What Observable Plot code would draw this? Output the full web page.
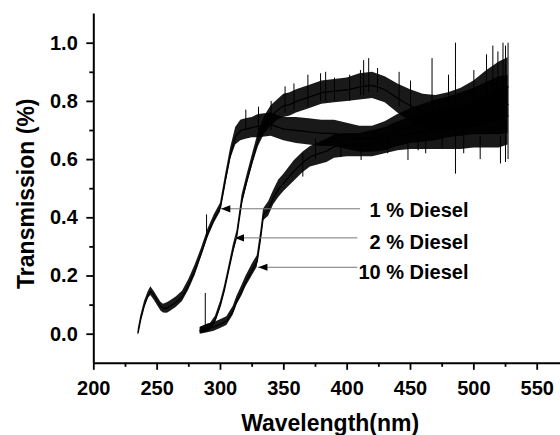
<!DOCTYPE html>
<html>
<head>
<meta charset="utf-8">
<script src="https://cdn.jsdelivr.net/npm/d3@7"></script>
<script src="https://cdn.jsdelivr.net/npm/@observablehq/plot@0.6"></script>
<style>
  html, body { margin: 0; padding: 0; background: white; }
</style>
</head>
<body>
<div id="chart"></div>
<script>
// ---- data ----
const seriesNames = ["1 % Diesel", "2 % Diesel", "10 % Diesel"];

// 1 % Diesel: wavelength (nm), centre of trace, half-width of noise band
const wl1 = [235,237,240,243,245,248,250,253,255,258,260,265,270,275,280,285,290,295,300,304,308,312,316,320,325,330,340,350,360,370,380,390,400,410,420,430,440,450,460,470,480,490,500,510,520,527];
const mid1 = [0.005,0.05,0.10,0.135,0.148,0.13,0.115,0.095,0.088,0.09,0.095,0.11,0.13,0.17,0.22,0.28,0.345,0.395,0.435,0.53,0.62,0.68,0.70,0.705,0.71,0.715,0.72,0.705,0.70,0.695,0.69,0.69,0.68,0.67,0.67,0.68,0.70,0.715,0.725,0.735,0.745,0.755,0.765,0.775,0.785,0.79];
const half1 = [0.01,0.012,0.012,0.012,0.015,0.015,0.015,0.015,0.015,0.018,0.018,0.018,0.018,0.018,0.018,0.015,0.015,0.015,0.015,0.018,0.02,0.03,0.035,0.035,0.035,0.04,0.04,0.04,0.045,0.045,0.045,0.045,0.045,0.045,0.045,0.05,0.055,0.06,0.065,0.07,0.07,0.075,0.08,0.09,0.1,0.1];

// 2 % Diesel
const wl2 = [284,288,292,296,300,303,306,310,313,317,321,326,330,335,340,345,350,355,360,370,380,390,400,410,420,430,440,450,460,470,480,490,500,510,520,527];
const mid2 = [0.012,0.018,0.025,0.05,0.10,0.15,0.21,0.29,0.34,0.46,0.53,0.61,0.67,0.72,0.75,0.77,0.785,0.79,0.80,0.815,0.83,0.835,0.84,0.85,0.855,0.84,0.81,0.785,0.765,0.76,0.765,0.775,0.79,0.815,0.835,0.85];
const half2 = [0.01,0.012,0.012,0.012,0.012,0.012,0.012,0.015,0.015,0.018,0.018,0.02,0.025,0.03,0.035,0.035,0.04,0.04,0.04,0.04,0.04,0.04,0.04,0.045,0.045,0.045,0.05,0.055,0.06,0.06,0.065,0.07,0.08,0.09,0.1,0.1];

// 10 % Diesel
const wl3 = [284,290,295,300,305,310,313,317,320,325,329,332,334,338,342,346,350,358,365,371,384,390,400,410,420,430,440,450,460,470,480,490,500,510,520,527];
const mid3 = [0.012,0.02,0.025,0.035,0.045,0.08,0.115,0.15,0.18,0.22,0.25,0.34,0.41,0.43,0.47,0.50,0.52,0.56,0.59,0.61,0.63,0.645,0.65,0.65,0.655,0.665,0.68,0.69,0.695,0.70,0.705,0.71,0.72,0.73,0.74,0.75];
const half3 = [0.012,0.015,0.015,0.015,0.015,0.015,0.015,0.018,0.018,0.02,0.02,0.02,0.02,0.025,0.025,0.03,0.03,0.035,0.035,0.035,0.04,0.04,0.04,0.04,0.045,0.045,0.05,0.055,0.06,0.065,0.07,0.075,0.08,0.09,0.1,0.1];

// prominent single spikes (nm, low, high)
const spikeNm   = [288,289,320,330,340,351,358,365,369,375,379,383,390,395,402,410.5,411,413,417,424,432,441,448,450,456,462,467,475,480,485.5,492,500,505,510,515,519,521,523,525,527];
const spikeLow  = [0.01,0.33,0.70,0.70,0.70,0.76,0.77,0.54,0.78,0.60,0.80,0.80,0.80,0.607,0.80,0.82,0.597,0.82,0.83,0.83,0.62,0.78,0.597,0.76,0.63,0.62,0.74,0.64,0.78,0.55,0.62,0.75,0.60,0.80,0.80,0.80,0.585,0.80,0.59,0.60];
const spikeHigh = [0.14,0.41,0.77,0.78,0.80,0.85,0.86,0.62,0.89,0.67,0.895,0.90,0.88,0.66,0.89,0.906,0.65,0.94,0.947,0.913,0.68,0.90,0.66,0.87,0.70,0.69,0.947,0.71,0.89,1.0,0.70,0.906,0.68,0.96,0.99,0.97,0.68,1.0,0.99,1.0];

// annotation arrows
const annTipNm  = [300.5, 311.3, 329.8];
const annTailNm = [410.6, 408.4, 408.4];
const annArrowY = [0.431, 0.331, 0.230];
const annTextNm = [495.8, 495.8, 495.8];
const annTextY  = [0.424, 0.316, 0.213];

// axis ticks
const xMajor = [200,250,300,350,400,450,500,550];
const xMinor = [225,275,325,375,425,475,525];
const yMajor = [0.0,0.2,0.4,0.6,0.8,1.0];
const yMinor = [0.1,0.3,0.5,0.7,0.9];

// ---- build tables ----
function rows(name, wl, mid, half) {
  return wl.map((x, i) => ({series: name, nm: x, mid: mid[i], lo: mid[i] - half[i], hi: mid[i] + half[i]}));
}
const traces = [
  ...rows(seriesNames[0], wl1, mid1, half1),
  ...rows(seriesNames[1], wl2, mid2, half2),
  ...rows(seriesNames[2], wl3, mid3, half3)
];
const spikes = spikeNm.map((x, i) => ({nm: x, lo: spikeLow[i], hi: spikeHigh[i]}));
const ann = seriesNames.map((s, i) => ({label: s, tip: annTipNm[i], tail: annTailNm[i], y: annArrowY[i], tx: annTextNm[i], ty: annTextY[i]}));

// left-pointing filled arrowhead with its tip at the data point
const arrowHead = {
  draw(context, size) {
    const r = Math.sqrt(size / Math.PI);
    const L = r * 2.3, H = r * 0.9;
    context.moveTo(0, 0);
    context.lineTo(L, -H);
    context.lineTo(L, H);
    context.closePath();
  }
};

const chart = Plot.plot({
  width: 560,
  height: 435,
  marginLeft: 93.3,
  marginRight: 0,
  marginTop: 13.6,
  marginBottom: 72.2,
  x: {domain: [200, 568.4], axis: null},
  y: {domain: [-0.1, 1.1], axis: null},
  style: {fontFamily: "'Liberation Sans', Arial, sans-serif", fontWeight: "bold", background: "white", color: "black"},
  marks: [
    Plot.areaY(traces, {x: "nm", y1: "lo", y2: "hi", z: "series", fill: "black", fillOpacity: 0.9, curve: "linear"}),
    Plot.line(traces, {x: "nm", y: "mid", z: "series", stroke: "black", strokeWidth: 1.3}),
    Plot.ruleX(spikes, {x: "nm", y1: "lo", y2: "hi", stroke: "black", strokeWidth: 1}),
    // axes
    Plot.ruleX([200], {stroke: "black", strokeWidth: 2}),
    Plot.ruleY([-0.1], {stroke: "black", strokeWidth: 2}),
    Plot.axisX({ticks: xMajor, tickSize: 7, tickPadding: 10, strokeWidth: 1.8, fontSize: 20, label: null}),
    Plot.axisX({ticks: xMinor, tickSize: 4, strokeWidth: 1.8, tickFormat: () => "", label: null}),
    Plot.axisY({ticks: yMajor, tickSize: 7, tickPadding: 9, strokeWidth: 1.8, fontSize: 20, tickFormat: d3.format(".1f"), label: null}),
    Plot.axisY({ticks: yMinor, tickSize: 4, strokeWidth: 1.8, tickFormat: () => "", label: null}),
    Plot.text(["Wavelength(nm)"], {frameAnchor: "bottom", lineAnchor: "middle", textAnchor: "middle", dx: 3, dy: 60, fontSize: 23, fontWeight: "bold"}),
    Plot.text(["Transmission (%)"], {frameAnchor: "left", lineAnchor: "middle", textAnchor: "middle", rotate: -90, dx: -67, dy: 5, fontSize: 23, fontWeight: "bold"}),
    // annotations
    Plot.ruleY(ann, {y: "y", x1: "tip", x2: "tail", stroke: "#777", strokeWidth: 1}),
    Plot.dot(ann, {x: "tip", y: "y", symbol: arrowHead, r: 4, fill: "black", stroke: "none"}),
    Plot.text(ann, {x: "tx", y: "ty", text: "label", textAnchor: "end", fontSize: 20, fontWeight: "bold"})
  ]
});
document.getElementById("chart").appendChild(chart);
</script>
</body>
</html>
